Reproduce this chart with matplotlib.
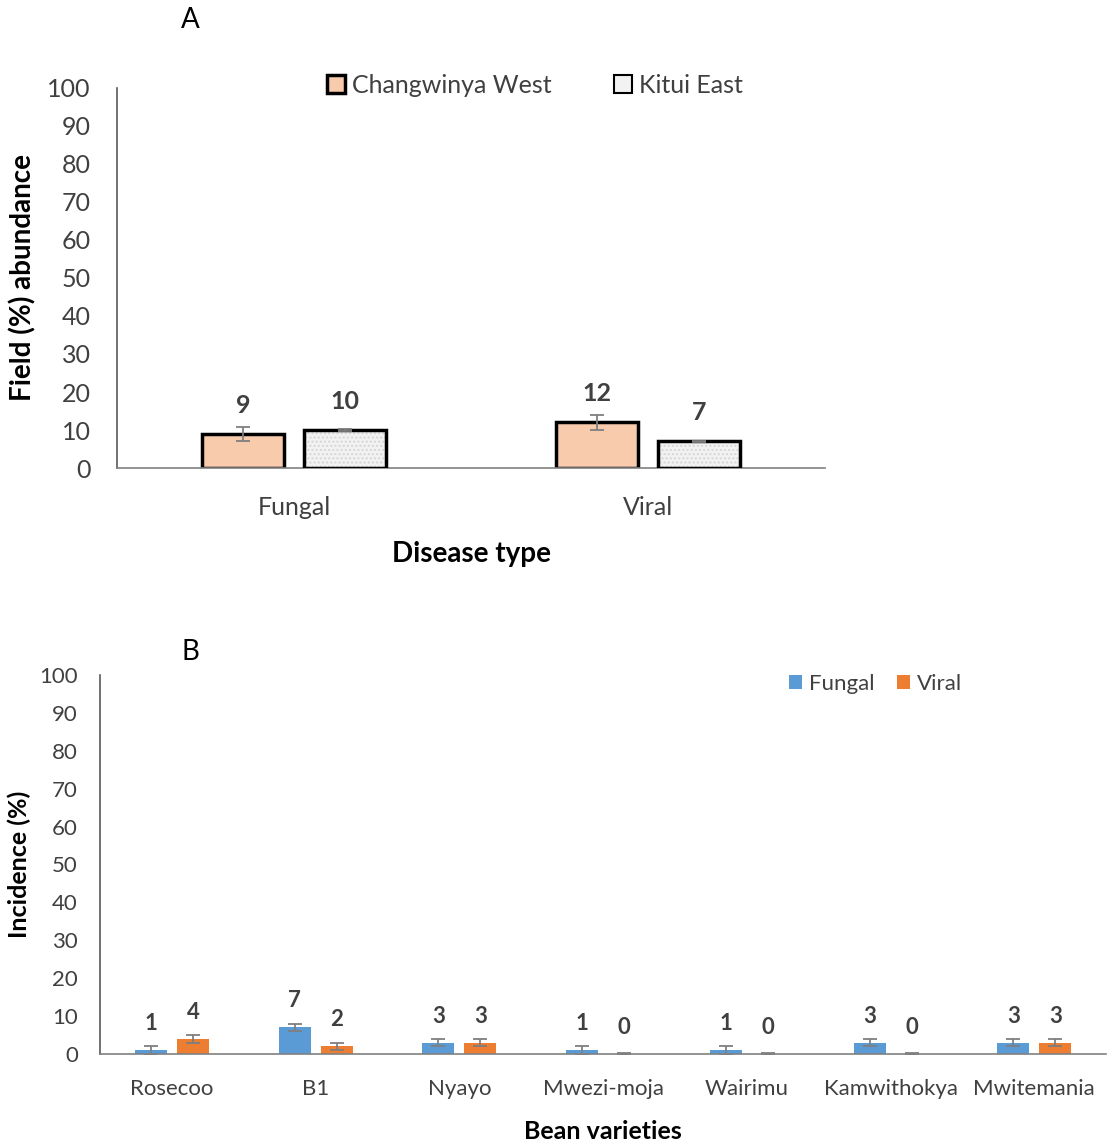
import numpy as np
from matplotlib import pyplot as plt

plt.rcParams['font.family'] = ['Lato', 'DejaVu Sans']

# panel A data
disease_types = ["Fungal", "Viral"]
changwinya = [9, 12]
changwinya_err = [1.9, 1.9]
kitui = [10, 7]
kitui_err = [0.2, 0.2]

# panel B data
varieties = ["Rosecoo", "B1", "Nyayo", "Mwezi-moja", "Wairimu", "Kamwithokya", "Mwitemania"]
fungal = [1, 7, 3, 1, 1, 3, 3]
fungal_err = [1.2, 1.0, 1.0, 1.2, 1.2, 1.0, 1.0]
viral = [4, 2, 3, 0, 0, 0, 3]
viral_err = [1.0, 1.0, 1.0, 0.3, 0.3, 0.3, 1.0]

yticks = list(range(0, 101, 10))

fig = plt.figure(figsize=(11.08, 11.44), dpi=100)
ax1 = fig.add_axes([0.1056, 0.5909, 0.639, 0.3322])
ax2 = fig.add_axes([0.0903, 0.0787, 0.908, 0.3313])

err_kw = dict(ecolor="#7f7f7f", elinewidth=1.3, capsize=5, capthick=1.3)

# ---- panel A ----
x = np.arange(len(disease_types))
w = 0.232
off = 0.143
ax1.bar(x - off, changwinya, w, color="#F8CBAD", edgecolor="black", linewidth=2.5,
        yerr=changwinya_err, error_kw=err_kw, label="Changwinya West", zorder=2)
ax1.bar(x + off, kitui, w, color="#F2F2F2", edgecolor="#d6d6d6", linewidth=0,
        hatch="....", zorder=2)
ax1.bar(x + off, kitui, w, fill=False, edgecolor="black", linewidth=2.5,
        yerr=kitui_err, error_kw=err_kw, zorder=3)
# legend proxy
ax1.bar([0], [0], 0, color="#F2F2F2", edgecolor="black", linewidth=1.5, label="Kitui East")
for xi, v in zip(x - off, changwinya):
    ax1.text(xi, v + 7.5, str(v), ha="center", va="center", fontsize=18, fontweight="bold", color="#404040")
for xi, v in zip(x + off, kitui):
    ax1.text(xi, v + 7.5, str(v), ha="center", va="center", fontsize=18, fontweight="bold", color="#404040")

ax1.set_xlim(-0.5, 1.5)
ax1.set_ylim(0, 100)
ax1.set_yticks(yticks)
ax1.set_xticks(x)
ax1.set_xticklabels(disease_types)
ax1.tick_params(axis="both", length=0, labelsize=18, colors="#404040")
ax1.tick_params(axis="x", pad=20)
ax1.tick_params(axis="y", pad=19)
for s in ["top", "right"]:
    ax1.spines[s].set_visible(False)
ax1.spines["left"].set_color("#595959")
ax1.spines["bottom"].set_color("#808080")
ax1.spines["left"].set_linewidth(1.2)
ax1.spines["bottom"].set_linewidth(1.2)
ax1.set_ylabel("Field (%) abundance", fontsize=20, fontweight="bold", labelpad=8)
ax1.set_xlabel("Disease type", fontsize=20, fontweight="bold", labelpad=16)
ax1.legend(loc="center left", bbox_to_anchor=(0.265, 1.007), ncol=2, frameon=False,
           fontsize=18, handlelength=0.7, handleheight=0.7, handletextpad=0.3,
           columnspacing=2.5, labelcolor="#404040")
fig.text(190 / 1108, 1 - 20 / 1144, "A", fontsize=20, ha="center", va="center")

# ---- panel B ----
xb = np.arange(len(varieties))
wb = 0.222
offb = 0.146
ax2.bar(xb - offb, fungal, wb, color="#5B9BD5", yerr=fungal_err, error_kw=err_kw,
        label="Fungal", zorder=2)
ax2.bar(xb + offb, viral, wb, color="#ED7D31", yerr=viral_err, error_kw=err_kw,
        label="Viral", zorder=2)
for xi, v in zip(xb - offb, fungal):
    ax2.text(xi, v + 7.0, str(v), ha="center", va="center", fontsize=16, fontweight="bold", color="#404040")
for xi, v in zip(xb + offb, viral):
    ax2.text(xi, v + 7.0, str(v), ha="center", va="center", fontsize=16, fontweight="bold", color="#404040")

ax2.set_xlim(-0.5, len(varieties) - 0.5)
ax2.set_ylim(0, 100)
ax2.set_yticks(yticks)
ax2.set_xticks(xb)
ax2.set_xticklabels(varieties)
ax2.tick_params(axis="both", length=0, labelsize=16, colors="#404040")
ax2.tick_params(axis="x", pad=18)
ax2.tick_params(axis="y", pad=16)
for s in ["top", "right"]:
    ax2.spines[s].set_visible(False)
ax2.spines["left"].set_color("#595959")
ax2.spines["bottom"].set_color("#808080")
ax2.spines["left"].set_linewidth(1.2)
ax2.spines["bottom"].set_linewidth(1.2)
ax2.set_ylabel("Incidence (%)", fontsize=18, fontweight="bold", labelpad=6)
ax2.set_xlabel("Bean varieties", fontsize=18, fontweight="bold", labelpad=15)
ax2.legend(loc="center left", bbox_to_anchor=(0.665, 0.977), ncol=2, frameon=False,
           fontsize=16, handlelength=0.6, handleheight=0.6, handletextpad=0.3,
           columnspacing=1.0, labelcolor="#404040")
fig.text(190 / 1108, 1 - 652 / 1144, "B", fontsize=20, ha="center", va="center")

fig.savefig("out.png", dpi=100)
